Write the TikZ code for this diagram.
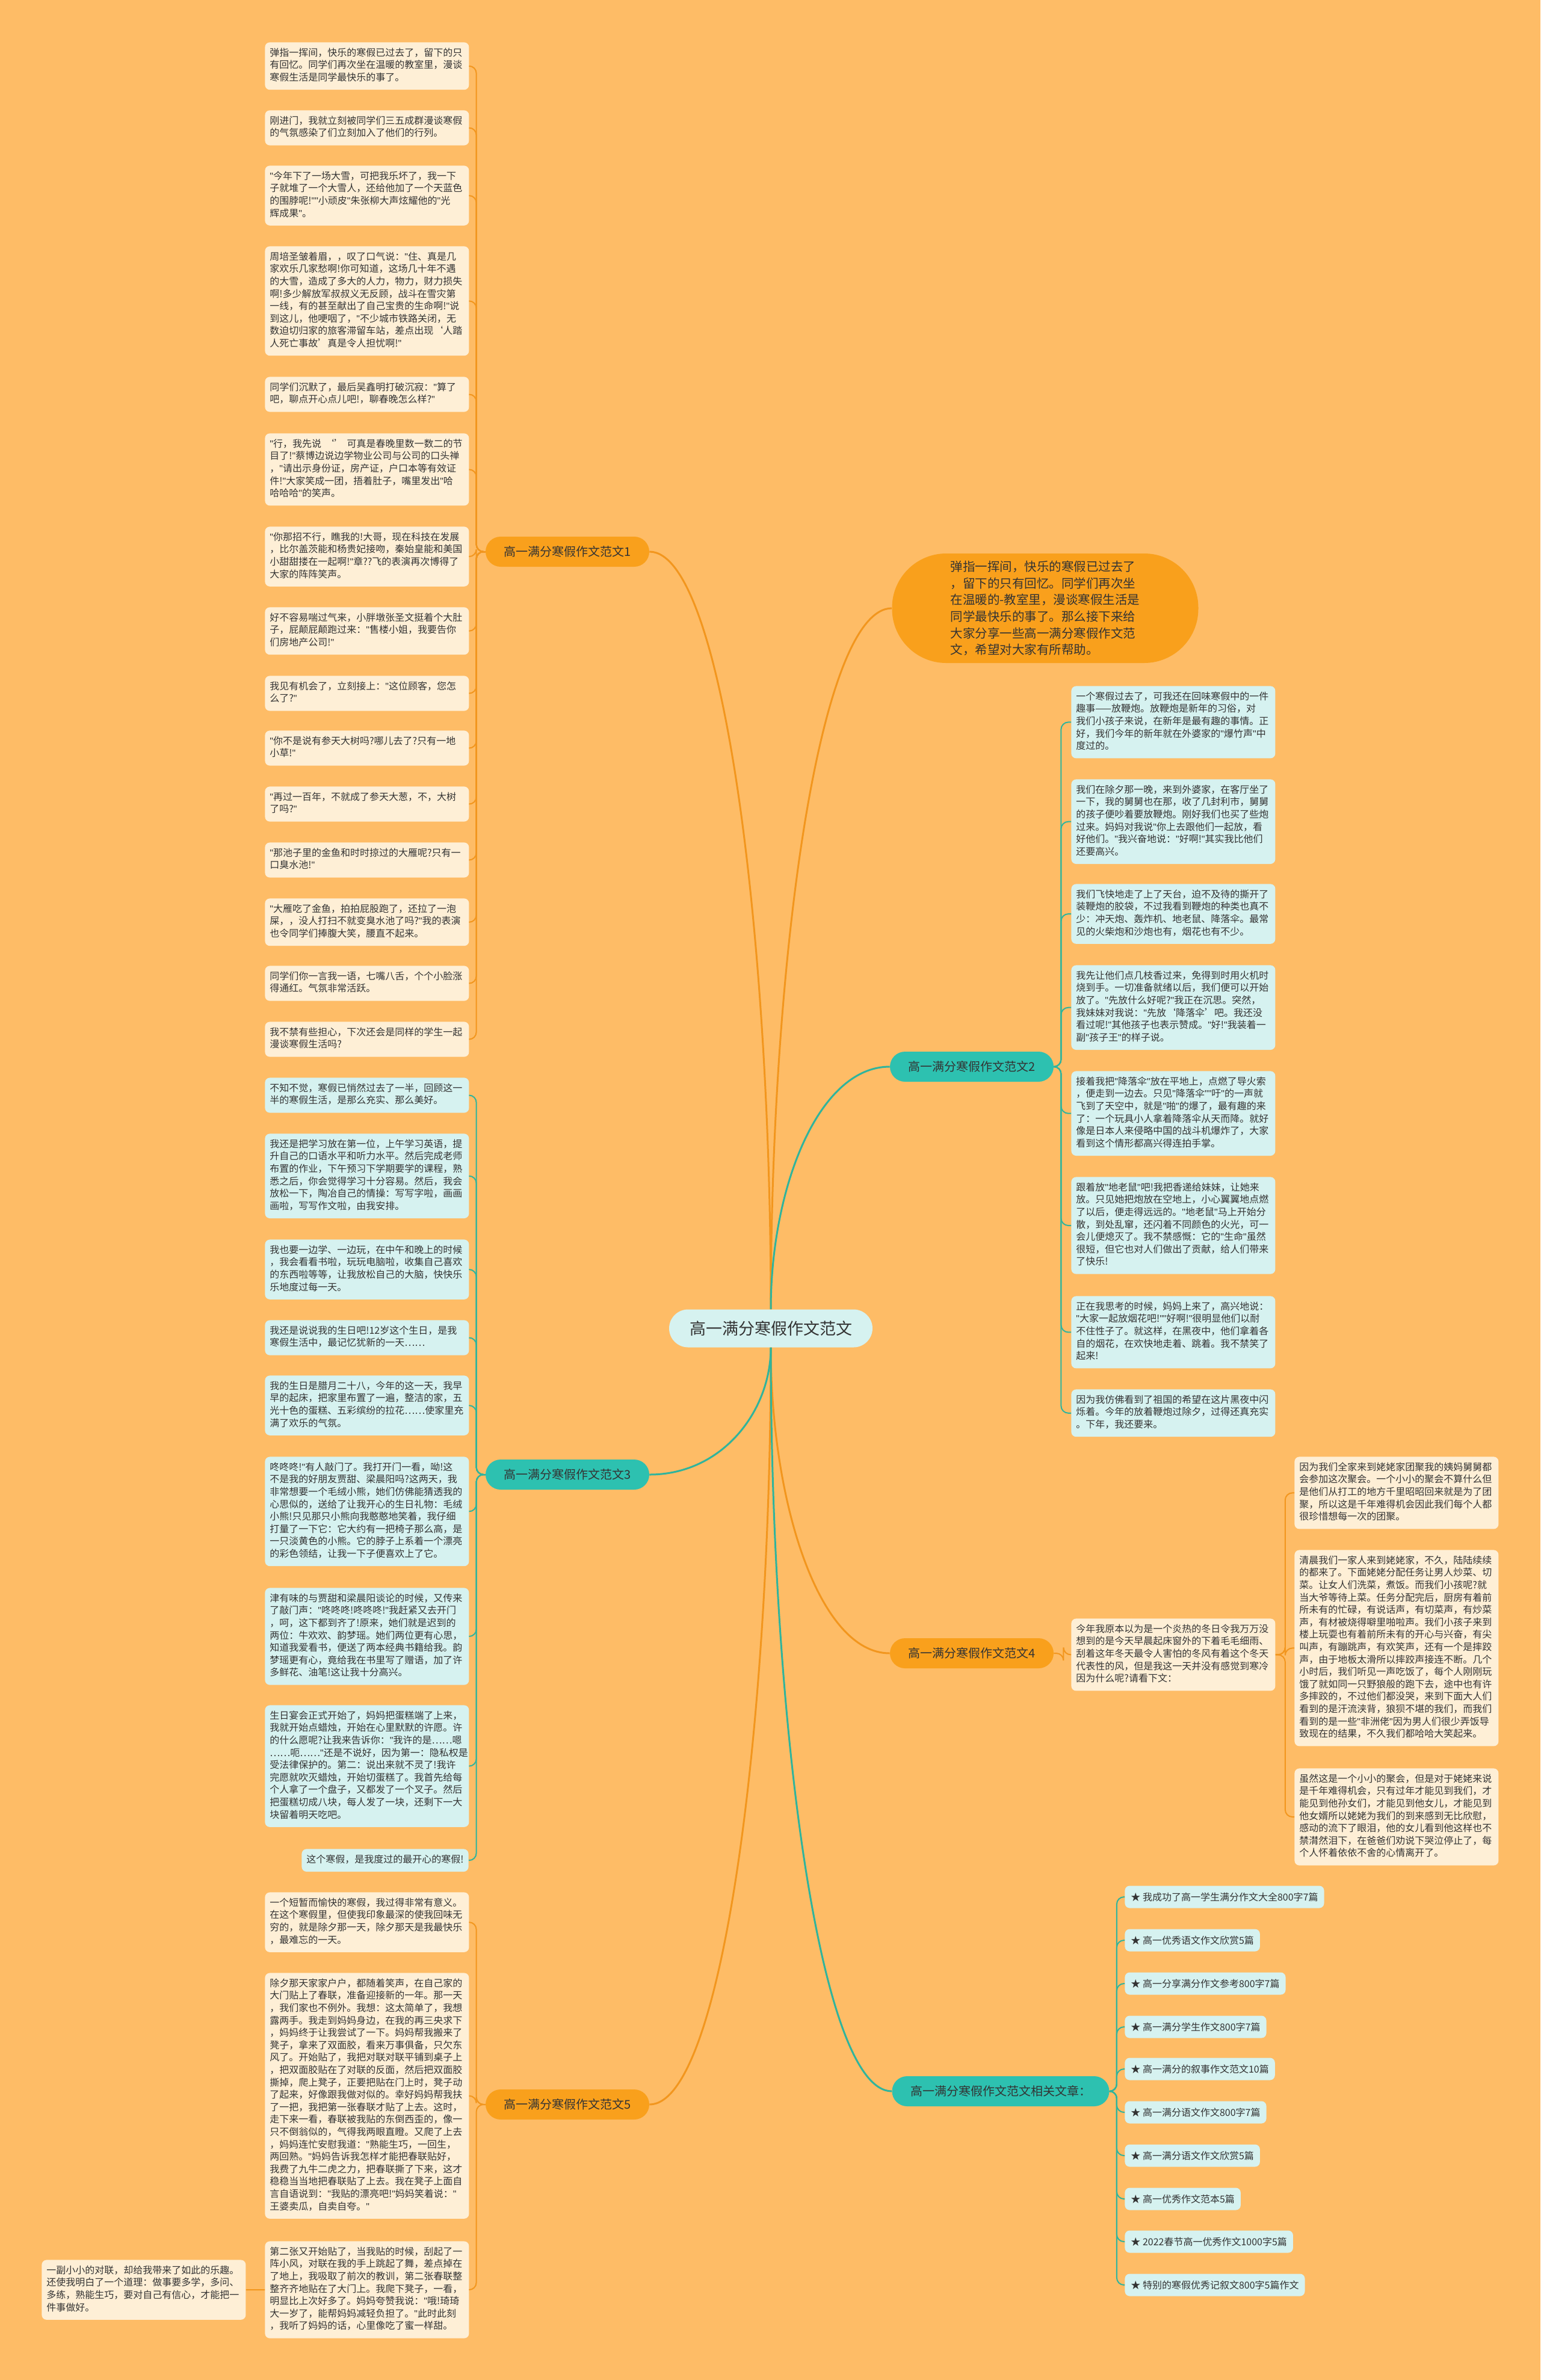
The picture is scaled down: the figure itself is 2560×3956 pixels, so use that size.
\documentclass[tikz,border=0pt]{standalone}
\usepackage{fontspec}
\setmainfont{Noto Sans CJK SC}
\newfontfamily\qfont{Liberation Sans}
\usetikzlibrary{calc}
\definecolor{bgc}{RGB}{254,188,102}
\definecolor{orangenode}{RGB}{249,160,28}
\definecolor{tealnode}{RGB}{45,193,176}
\definecolor{creambox}{RGB}{254,239,214}
\definecolor{icebox}{RGB}{214,242,240}
\definecolor{inkc}{RGB}{51,51,51}
\definecolor{orangeline}{RGB}{242,150,30}
\definecolor{tealline}{RGB}{48,180,156}

\begin{document}
\catcode`\"=\active
\def"{{\qfont\char34}}
\begin{tikzpicture}[x=0.5pt,y=-0.5pt,
  box/.style={rectangle,rounded corners=4pt,inner xsep=4pt,inner ysep=4.25pt,text width=161.5pt,align=left,anchor=north west,text=inkc,font=\fontsize{8}{10.3}\selectfont,execute at begin node=\strut,execute at end node=\strut},
  cbox/.style={box,fill=creambox},
  ibox/.style={box,fill=icebox},
  branch/.style={rectangle,rounded corners=12.5pt,minimum width=136pt,minimum height=25pt,inner sep=0pt,text=inkc,font=\fontsize{10}{12}\selectfont},
  branchO/.style={branch,fill=orangenode},
  branchT/.style={branch,fill=tealnode},
  hub/.style={rectangle,rounded corners=15.75pt,minimum width=169pt,minimum height=31.5pt,fill=icebox,text=inkc,font=\fontsize{13.5}{16}\selectfont},
  bubble/.style={rectangle,rounded corners=45pt,minimum width=254.5pt,minimum height=91pt,fill=orangenode,text=inkc,align=left,font=\fontsize{10.25}{13.85}\selectfont},
  item/.style={rectangle,rounded corners=4pt,inner xsep=5pt,minimum height=18.5pt,anchor=west,fill=icebox,text=inkc,font=\fontsize{8}{10}\selectfont},
  oline/.style={draw=orangeline,line width=1pt},
  tline/.style={draw=tealline,line width=1pt},
  hook/.style={rounded corners=6pt,to path={-- ([xshift=#1]\tikztostart) |- (\tikztotarget)}},
  mcurve/.style={line width=1.5pt,to path={.. controls ($(\tikztostart)!0.5!(\tikztostart|-\tikztotarget)$) and ($(\tikztotarget)!0.6!(\tikztostart|-\tikztotarget)$) .. (\tikztotarget)}}]

\fill[bgc] (0,0) rectangle (2560,3956);

\node[hub]     (c)  at (1281,2208) {高一满分寒假作文范文};
\node[bubble]  (intro) at (1737,1011) {弹指一挥间，快乐的寒假已过去了\\，留下的只有回忆。同学们再次坐\\在温暖的-教室里，漫谈寒假生活是\\同学最快乐的事了。那么接下来给\\大家分享一些高一满分寒假作文范\\文，希望对大家有所帮助。};
\node[branchO] (b1) at (943,917)  {高一满分寒假作文范文1};
\node[branchT] (b2) at (1615,1773) {高一满分寒假作文范文2};
\node[branchT] (b3) at (943,2451) {高一满分寒假作文范文3};
\node[branchO] (b4) at (1615,2748) {高一满分寒假作文范文4};
\node[branchO] (b5) at (943,3498) {高一满分寒假作文范文5};
\node[branchT,minimum width=180.5pt] (br) at (1663,3476) {高一满分寒假作文范文相关文章：};

\node[cbox] (b1-1) at (440,70) {弹指一挥间，快乐的寒假已过去了，留下的只\\有回忆。同学们再次坐在温暖的教室里，漫谈\\寒假生活是同学最快乐的事了。};
\node[cbox] (b1-2) at (440,183) {刚进门，我就立刻被同学们三五成群漫谈寒假\\的气氛感染了们立刻加入了他们的行列。};
\node[cbox] (b1-3) at (440,275) {"今年下了一场大雪，可把我乐坏了，我一下\\子就堆了一个大雪人，还给他加了一个天蓝色\\的围脖呢!""小顽皮"朱张柳大声炫耀他的"光\\辉成果"。};
\node[cbox] (b1-4) at (440,409) {周培圣皱着眉，，叹了口气说："住、真是几\\家欢乐几家愁啊!你可知道，这场几十年不遇\\的大雪，造成了多大的人力，物力，财力损失\\啊!多少解放军叔叔义无反顾，战斗在雪灾第\\一线，有的甚至献出了自己宝贵的生命啊!"说\\到这儿，他哽咽了，"不少城市铁路关闭，无\\数迫切归家的旅客滞留车站，差点出现‘人踏\\人死亡事故’真是令人担忧啊!"};
\node[cbox] (b1-5) at (440,626) {同学们沉默了，最后吴鑫明打破沉寂："算了\\吧，聊点开心点儿吧!，聊春晚怎么样?"};
\node[cbox] (b1-6) at (440,720) {"行，我先说~‘’~可真是春晚里数一数二的节\\目了!"蔡博边说边学物业公司与公司的口头禅\\，"请出示身份证，房产证，户口本等有效证\\件!"大家笑成一团，捂着肚子，嘴里发出"哈\\哈哈哈"的笑声。};
\node[cbox] (b1-7) at (440,875) {"你那招不行，瞧我的!大哥，现在科技在发展\\，比尔盖茨能和杨贵妃接吻，秦始皇能和美国\\小甜甜搂在一起啊!"章??飞的表演再次博得了\\大家的阵阵笑声。};
\node[cbox] (b1-8) at (440,1009) {好不容易喘过气来，小胖墩张圣文挺着个大肚\\子，屁颠屁颠跑过来："售楼小姐，我要告你\\们房地产公司!"};
\node[cbox] (b1-9) at (440,1123) {我见有机会了，立刻接上："这位顾客，您怎\\么了?"};
\node[cbox] (b1-10) at (440,1214) {"你不是说有参天大树吗?哪儿去了?只有一地\\小草!"};
\node[cbox] (b1-11) at (440,1307) {"再过一百年，不就成了参天大葱，不，大树\\了吗?"};
\node[cbox] (b1-12) at (440,1400) {"那池子里的金鱼和时时掠过的大雁呢?只有一\\口臭水池!"};
\node[cbox] (b1-13) at (440,1493) {"大雁吃了金鱼，拍拍屁股跑了，还拉了一泡\\屎，，没人打扫不就变臭水池了吗?"我的表演\\也令同学们捧腹大笑，腰直不起来。};
\node[cbox] (b1-14) at (440,1605) {同学们你一言我一语，七嘴八舌，个个小脸涨\\得通红。气氛非常活跃。};
\node[cbox] (b1-15) at (440,1698) {我不禁有些担心，下次还会是同样的学生一起\\漫谈寒假生活吗?};

\node[ibox] (b3-1) at (440,1791) {不知不觉，寒假已悄然过去了一半，回顾这一\\半的寒假生活，是那么充实、那么美好。};
\node[ibox] (b3-2) at (440,1884) {我还是把学习放在第一位，上午学习英语，提\\升自己的口语水平和听力水平。然后完成老师\\布置的作业，下午预习下学期要学的课程，熟\\悉之后，你会觉得学习十分容易。然后，我会\\放松一下，陶冶自己的情操：写写字啦，画画\\画啦，写写作文啦，由我安排。};
\node[ibox] (b3-3) at (440,2060) {我也要一边学、一边玩，在中午和晚上的时候\\，我会看看书啦，玩玩电脑啦，收集自己喜欢\\的东西啦等等，让我放松自己的大脑，快快乐\\乐地度过每一天。};
\node[ibox] (b3-4) at (440,2194) {我还是说说我的生日吧!12岁这个生日，是我\\寒假生活中，最记忆犹新的一天……};
\node[ibox] (b3-5) at (440,2286) {我的生日是腊月二十八，今年的这一天，我早\\早的起床，把家里布置了一遍，整洁的家，五\\光十色的蛋糕、五彩缤纷的拉花……使家里充\\满了欢乐的气氛。};
\node[ibox] (b3-6) at (440,2421) {咚咚咚!"有人敲门了。我打开门一看，呦!这\\不是我的好朋友贾甜、梁晨阳吗?这两天，我\\非常想要一个毛绒小熊，她们仿佛能猜透我的\\心思似的，送给了让我开心的生日礼物：毛绒\\小熊!只见那只小熊向我憨憨地笑着，我仔细\\打量了一下它：它大约有一把椅子那么高，是\\一只淡黄色的小熊。它的脖子上系着一个漂亮\\的彩色领结，让我一下子便喜欢上了它。};
\node[ibox] (b3-7) at (440,2639) {津有味的与贾甜和梁晨阳谈论的时候，又传来\\了敲门声："咚咚咚!咚咚咚!"我赶紧又去开门\\，呵，这下都到齐了!原来，她们就是迟到的\\两位：牛欢欢、韵梦瑶。她们两位更有心思，\\知道我爱看书，便送了两本经典书籍给我。韵\\梦瑶更有心，竟给我在书里写了赠语，加了许\\多鲜花、油笔!这让我十分高兴。};
\node[ibox] (b3-8) at (440,2834) {生日宴会正式开始了，妈妈把蛋糕端了上来，\\我就开始点蜡烛，开始在心里默默的许愿。许\\的什么愿呢?让我来告诉你："我许的是……嗯\\……呃……"还是不说好，因为第一：隐私权是\\受法律保护的。第二：说出来就不灵了!我许\\完愿就吹灭蜡烛，开始切蛋糕了。我首先给每\\个人拿了一个盘子，又都发了一个叉子。然后\\把蛋糕切成八块，每人发了一块，还剩下一大\\块留着明天吃吧。};
\node[ibox,text width=,anchor=north east] (b3-9) at (779,3073) {这个寒假，是我度过的最开心的寒假!};

\node[cbox] (b5-1) at (440,3145) {一个短暂而愉快的寒假，我过得非常有意义。\\在这个寒假里，但使我印象最深的使我回味无\\穷的，就是除夕那一天，除夕那天是我最快乐\\，最难忘的一天。};
\node[cbox] (b5-2) at (440,3279) {除夕那天家家户户，都随着笑声，在自己家的\\大门贴上了春联，准备迎接新的一年。那一天\\，我们家也不例外。我想：这太简单了，我想\\露两手。我走到妈妈身边，在我的再三央求下\\，妈妈终于让我尝试了一下。妈妈帮我搬来了\\凳子，拿来了双面胶，看来万事俱备，只欠东\\风了。开始贴了，我把对联对联平铺到桌子上\\，把双面胶贴在了对联的反面，然后把双面胶\\撕掉，爬上凳子，正要把贴在门上时，凳子动\\了起来，好像跟我做对似的。幸好妈妈帮我扶\\了一把，我把第一张春联才贴了上去。这时，\\走下来一看，春联被我贴的东倒西歪的，像一\\只不倒翁似的，气得我两眼直瞪。又爬了上去\\，妈妈连忙安慰我道："熟能生巧，一回生，\\两回熟。"妈妈告诉我怎样才能把春联贴好，\\我费了九牛二虎之力，把春联撕了下来，这才\\稳稳当当地把春联贴了上去。我在凳子上面自\\言自语说到："我贴的漂亮吧!"妈妈笑着说："\\王婆卖瓜，自卖自夸。"};
\node[cbox] (b5-3) at (440,3725) {第二张又开始贴了，当我贴的时候，刮起了一\\阵小风，对联在我的手上跳起了舞，差点掉在\\了地上，我吸取了前次的教训，第二张春联整\\整齐齐地贴在了大门上。我爬下凳子，一看，\\明显比上次好多了。妈妈夸赞我说："哦!琦琦\\大一岁了，能帮妈妈减轻负担了。"此时此刻\\，我听了妈妈的话，心里像吃了蜜一样甜。};
\node[cbox] (b5-3-1) at (69,3756) {一副小小的对联，却给我带来了如此的乐趣。\\还使我明白了一个道理：做事要多学，多问、\\多练，熟能生巧，要对自己有信心，才能把一\\件事做好。};

\node[ibox] (b2-1) at (1780,1140) {一个寒假过去了，可我还在回味寒假中的一件\\趣事——放鞭炮。放鞭炮是新年的习俗，对\\我们小孩子来说，在新年是最有趣的事情。正\\好，我们今年的新年就在外婆家的"爆竹声"中\\度过的。};
\node[ibox] (b2-2) at (1780,1295) {我们在除夕那一晚，来到外婆家，在客厅坐了\\一下，我的舅舅也在那，收了几封利市，舅舅\\的孩子便吵着要放鞭炮。刚好我们也买了些炮\\过来。妈妈对我说"你上去跟他们一起放，看\\好他们。"我兴奋地说："好啊!"其实我比他们\\还要高兴。};
\node[ibox] (b2-3) at (1780,1469) {我们飞快地走了上了天台，迫不及待的撕开了\\装鞭炮的胶袋，不过我看到鞭炮的种类也真不\\少：冲天炮、轰炸机、地老鼠、降落伞。最常\\见的火柴炮和沙炮也有，烟花也有不少。};
\node[ibox] (b2-4) at (1780,1604) {我先让他们点几枝香过来，免得到时用火机时\\烧到手。一切准备就绪以后，我们便可以开始\\放了。"先放什么好呢?"我正在沉思。突然，\\我妹妹对我说："先放‘降落伞’吧。我还没\\看过呢!"其他孩子也表示赞成。"好!"我装着一\\副"孩子王"的样子说。};
\node[ibox] (b2-5) at (1780,1780) {接着我把"降落伞"放在平地上，点燃了导火索\\，便走到一边去。只见"降落伞""吁"的一声就\\飞到了天空中，就是"啪"的爆了，最有趣的来\\了：一个玩具小人拿着降落伞从天而降。就好\\像是日本人来侵略中国的战斗机爆炸了，大家\\看到这个情形都高兴得连拍手掌。};
\node[ibox] (b2-6) at (1780,1956) {跟着放"地老鼠"吧!我把香递给妹妹，让她来\\放。只见她把炮放在空地上，小心翼翼地点燃\\了以后，便走得远远的。"地老鼠"马上开始分\\散，到处乱窜，还闪着不同颜色的火光，可一\\会儿便熄灭了。我不禁感慨：它的"生命"虽然\\很短，但它也对人们做出了贡献，给人们带来\\了快乐!};
\node[ibox] (b2-7) at (1780,2154) {正在我思考的时候，妈妈上来了，高兴地说：\\"大家一起放烟花吧!""好啊!"很明显他们以耐\\不住性子了。就这样，在黑夜中，他们拿着各\\自的烟花，在欢快地走着、跳着。我不禁笑了\\起来!};
\node[ibox] (b2-8) at (1780,2309) {因为我仿佛看到了祖国的希望在这片黑夜中闪\\烁着。今年的放着鞭炮过除夕，过得还真充实\\。下年，我还要来。};

\node[cbox] (b4-1) at (1780,2690) {今年我原本以为是一个炎热的冬日令我万万没\\想到的是今天早晨起床窗外的下着毛毛细雨、\\刮着这年冬天最令人害怕的冬风有着这个冬天\\代表性的风，但是我这一天并没有感觉到寒冷\\因为什么呢?请看下文：};
\node[cbox] (b4-1-1) at (2151,2421) {因为我们全家来到姥姥家团聚我的姨妈舅舅都\\会参加这次聚会。一个小小的聚会不算什么但\\是他们从打工的地方千里昭昭回来就是为了团\\聚，所以这是千年难得机会因此我们每个人都\\很珍惜想每一次的团聚。};
\node[cbox] (b4-1-2) at (2151,2576) {清晨我们一家人来到姥姥家，不久，陆陆续续\\的都来了。下面姥姥分配任务让男人炒菜、切\\菜。让女人们洗菜，煮饭。而我们小孩呢?就\\当大爷等待上菜。任务分配完后，厨房有着前\\所未有的忙碌，有说话声，有切菜声，有炒菜\\声，有材被烧得噼里啪啦声。我们小孩子来到\\楼上玩耍也有着前所未有的开心与兴奋，有尖\\叫声，有蹦跳声，有欢笑声，还有一个是摔跤\\声，由于地板太滑所以摔跤声接连不断。几个\\小时后，我们听见一声吃饭了，每个人刚刚玩\\饿了就如同一只野狼般的跑下去，途中也有许\\多摔跤的，不过他们都没哭，来到下面大人们\\看到的是汗流浃背，狼狈不堪的我们，而我们\\看到的是一些"非洲佬"因为男人们很少弄饭导\\致现在的结果，不久我们都哈哈大笑起来。};
\node[cbox] (b4-1-3) at (2151,2939) {虽然这是一个小小的聚会，但是对于姥姥来说\\是千年难得机会，只有过年才能见到我们，才\\能见到他孙女们，才能见到他女儿，才能见到\\他女婿所以姥姥为我们的到来感到无比欣慰，\\感动的流下了眼泪，他的女儿看到他这样也不\\禁潸然泪下，在爸爸们劝说下哭泣停止了，每\\个人怀着依依不舍的心情离开了。};

\node[item] (r1)  at (1869,3153) {★ 我成功了高一学生满分作文大全800字7篇};
\node[item] (r2)  at (1869,3225) {★ 高一优秀语文作文欣赏5篇};
\node[item] (r3)  at (1869,3297) {★ 高一分享满分作文参考800字7篇};
\node[item] (r4)  at (1869,3369) {★ 高一满分学生作文800字7篇};
\node[item] (r5)  at (1869,3439) {★ 高一满分的叙事作文范文10篇};
\node[item] (r6)  at (1869,3511) {★ 高一满分语文作文800字7篇};
\node[item] (r7)  at (1869,3583) {★ 高一满分语文作文欣赏5篇};
\node[item] (r8)  at (1869,3655) {★ 高一优秀作文范本5篇};
\node[item] (r9)  at (1869,3726) {★ 2022春节高一优秀作文1000字5篇};
\node[item] (r10) at (1869,3798) {★ 特别的寒假优秀记叙文800字5篇作文};

\draw[oline] (c.north) edge[mcurve] (intro.west)
                       edge[mcurve] (b1.east)
             (c.south) edge[mcurve] (b4.west)
                       edge[mcurve] (b5.east);
\draw[tline] (c.north) edge[mcurve] (b2.west)
             (c.south) edge[mcurve] (b3.east)
                       edge[mcurve] (br.west);

\draw[oline] (b1.west) edge[hook=-7.5pt] (b1-1.east)
                       edge[hook=-7.5pt] (b1-2.east)
                       edge[hook=-7.5pt] (b1-3.east)
                       edge[hook=-7.5pt] (b1-4.east)
                       edge[hook=-7.5pt] (b1-5.east)
                       edge[hook=-7.5pt] (b1-6.east)
                       edge[hook=-7.5pt] (b1-7.east)
                       edge[hook=-7.5pt] (b1-8.east)
                       edge[hook=-7.5pt] (b1-9.east)
                       edge[hook=-7.5pt] (b1-10.east)
                       edge[hook=-7.5pt] (b1-11.east)
                       edge[hook=-7.5pt] (b1-12.east)
                       edge[hook=-7.5pt] (b1-13.east)
                       edge[hook=-7.5pt] (b1-14.east)
                       edge[hook=-7.5pt] (b1-15.east)
             (b5.west) edge[hook=-7.5pt] (b5-1.east)
                       edge[hook=-7.5pt] (b5-2.east)
                       edge[hook=-7.5pt] (b5-3.east)
             (b5-3.west) edge (b5-3-1.east)
             (b4.east) edge[hook=8pt] (b4-1.west)
             (b4-1.east) edge[hook=8pt] (b4-1-1.west)
                         edge[hook=8pt] (b4-1-2.west)
                         edge[hook=8pt] (b4-1-3.west);

\draw[tline] (b3.west) edge[hook=-7.5pt] (b3-1.east)
                       edge[hook=-7.5pt] (b3-2.east)
                       edge[hook=-7.5pt] (b3-3.east)
                       edge[hook=-7.5pt] (b3-4.east)
                       edge[hook=-7.5pt] (b3-5.east)
                       edge[hook=-7.5pt] (b3-6.east)
                       edge[hook=-7.5pt] (b3-7.east)
                       edge[hook=-7.5pt] (b3-8.east)
                       edge[hook=-7.5pt] (b3-9.east)
             (b2.east) edge[hook=6pt] (b2-1.west)
                       edge[hook=6pt] (b2-2.west)
                       edge[hook=6pt] (b2-3.west)
                       edge[hook=6pt] (b2-4.west)
                       edge[hook=6pt] (b2-5.west)
                       edge[hook=6pt] (b2-6.west)
                       edge[hook=6pt] (b2-7.west)
                       edge[hook=6pt] (b2-8.west)
             (br.east) edge[hook=6pt] (r1.west)
                       edge[hook=6pt] (r2.west)
                       edge[hook=6pt] (r3.west)
                       edge[hook=6pt] (r4.west)
                       edge[hook=6pt] (r5.west)
                       edge[hook=6pt] (r6.west)
                       edge[hook=6pt] (r7.west)
                       edge[hook=6pt] (r8.west)
                       edge[hook=6pt] (r9.west)
                       edge[hook=6pt] (r10.west);
\end{tikzpicture}
\end{document}
